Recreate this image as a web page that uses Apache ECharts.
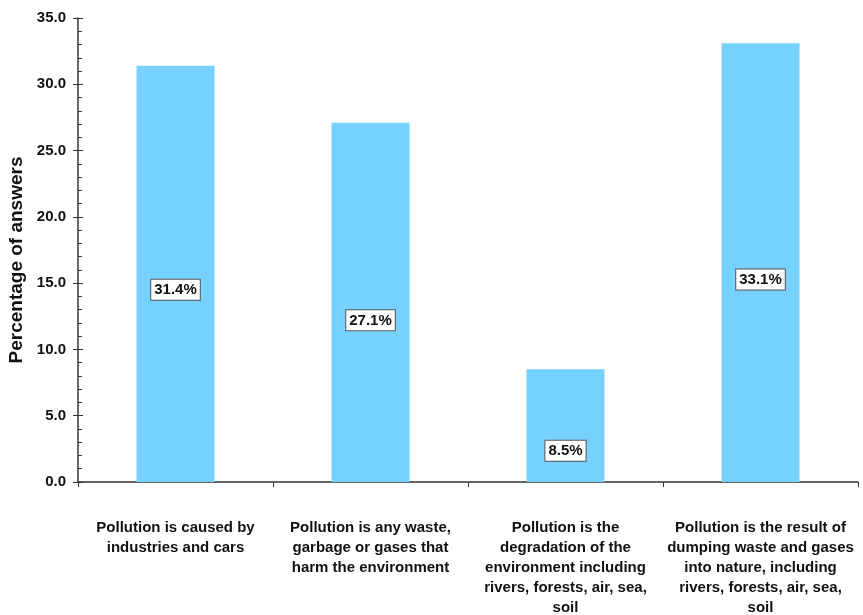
<!DOCTYPE html>
<html>
<head>
<meta charset="utf-8">
<script src="https://cdn.jsdelivr.net/npm/echarts@6/dist/echarts.min.js"></script>
<style>
  html, body { margin: 0; padding: 0; background: #fff; }
  #chart { width: 863px; height: 615px; }
</style>
</head>
<body>
<div id="chart"></div>
<script>
// Definitions of pollution given by respondents
const categories = [
  'Pollution is caused by\nindustries and cars',
  'Pollution is any waste,\ngarbage or gases that\nharm the environment',
  'Pollution is the\ndegradation of the\nenvironment including\nrivers, forests, air, sea,\nsoil',
  'Pollution is the result of\ndumping waste and gases\ninto nature, including\nrivers, forests, air, sea,\nsoil'
];
const percentages = [31.4, 27.1, 8.5, 33.1];
const valueLabels = ['31.4%', '27.1%', '8.5%', '33.1%'];
// vertical shift of each value box below the bar's midpoint
const labelShift = [16, 18, 25, 17];

const FONT = 'Liberation Sans';
const chart = echarts.init(document.getElementById('chart'));

chart.setOption({
  animation: false,
  grid: { left: 78, right: 5, top: 18, bottom: 133, outerBoundsMode: 'none', containLabel: false },
  xAxis: {
    type: 'category',
    data: categories,
    axisLine: { lineStyle: { color: '#333', width: 1.5 } },
    axisTick: { show: true, length: 5, lineStyle: { color: '#333' } },
    axisLabel: {
      interval: 0,
      margin: 36,
      color: '#111',
      fontFamily: FONT,
      fontWeight: 'bold',
      fontSize: 15,
      lineHeight: 20
    }
  },
  yAxis: [
    {
      type: 'value',
      min: 0,
      max: 35,
      interval: 5,
      name: 'Percentage of answers',
      nameLocation: 'middle',
      nameGap: 52,
      nameTextStyle: {
        color: '#111', fontFamily: FONT, fontWeight: 'bold', fontSize: 19,
        padding: [0, 20, 0, 0]
      },
      axisLine: { show: true, lineStyle: { color: '#333', width: 1.5 } },
      axisTick: { show: true, length: 5, lineStyle: { color: '#333' } },
      axisLabel: {
        formatter: v => v.toFixed(1),
        color: '#111',
        fontFamily: FONT,
        fontWeight: 'bold',
        fontSize: 15,
        margin: 12
      },
      splitLine: { show: false }
    },
    {
      // inner half of the major ticks plus the minor ticks
      type: 'value',
      position: 'left',
      min: 0,
      max: 35,
      interval: 5,
      axisLine: { show: false },
      axisTick: { show: true, inside: true, length: 5, lineStyle: { color: '#333' } },
      minorTick: { show: true, splitNumber: 5, length: 4, lineStyle: { color: '#333' } },
      axisLabel: { show: false },
      splitLine: { show: false }
    }
  ],
  series: [{
    type: 'bar',
    barWidth: '40%',
    itemStyle: { color: '#76D1FE' },
    data: percentages.map((v, i) => ({
      value: v,
      label: { offset: [0, labelShift[i]], formatter: valueLabels[i] }
    })),
    label: {
      show: true,
      position: 'inside',
      color: '#111',
      fontFamily: FONT,
      fontWeight: 'bold',
      fontSize: 15,
      backgroundColor: '#fff',
      borderColor: '#555',
      borderWidth: 1,
      padding: [3, 3, 2, 3]
    }
  }]
});
</script>
</body>
</html>
